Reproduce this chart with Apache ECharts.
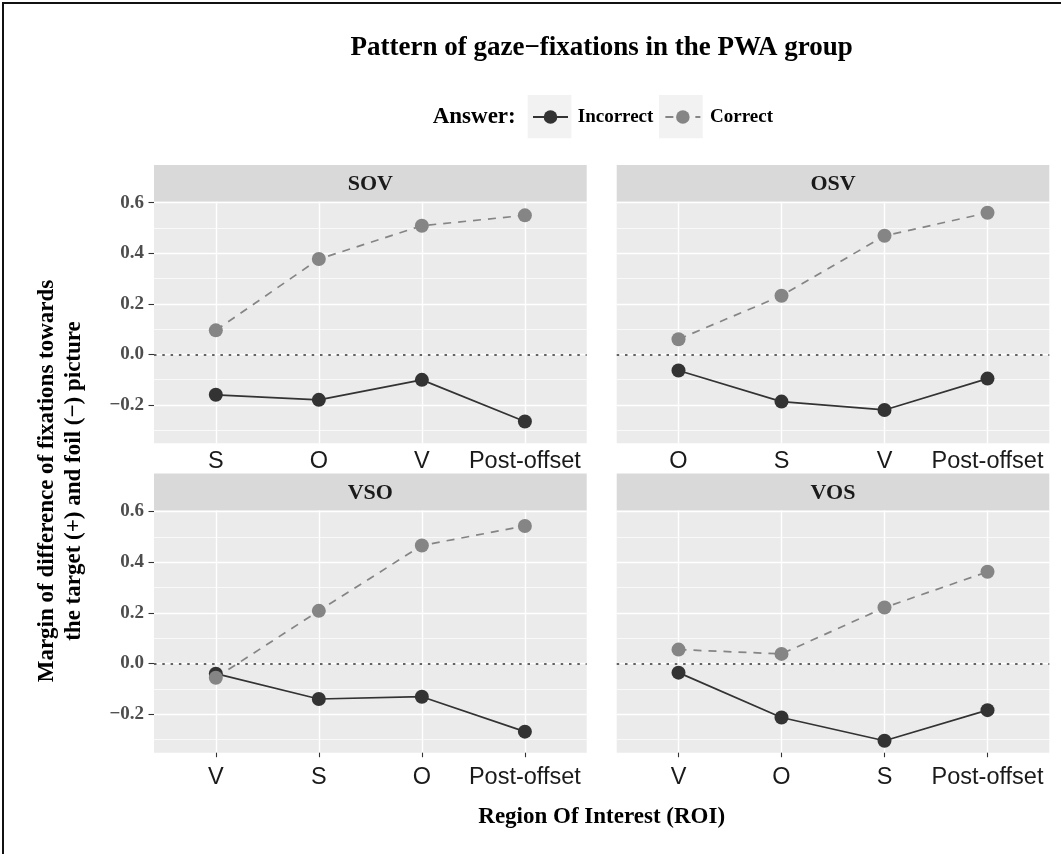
<!DOCTYPE html>
<html>
<head>
<meta charset="utf-8">
<title>Pattern of gaze-fixations in the PWA group</title>
<script src="https://cdn.jsdelivr.net/npm/echarts@6.0.0/dist/echarts.min.js"></script>
<style>
  html, body { margin: 0; padding: 0; background: #fff; }
  #chart { width: 1061px; height: 854px; }
</style>
</head>
<body>
<div id="chart"></div>
<script>
// facets, in drawing order: top-left, top-right, bottom-left, bottom-right
var panelNames = ['SOV', 'OSV', 'VSO', 'VOS'];

// order of the regions of interest on each facet's x axis
var sovRoi = ['S', 'O', 'V', 'Post-offset'];
var osvRoi = ['O', 'S', 'V', 'Post-offset'];
var vsoRoi = ['V', 'S', 'O', 'Post-offset'];
var vosRoi = ['V', 'O', 'S', 'Post-offset'];

// margin of difference, incorrect answers
var sovIncorrect = [-0.160, -0.180, -0.101, -0.266];
var osvIncorrect = [-0.064, -0.187, -0.220, -0.096];
var vsoIncorrect = [-0.040, -0.140, -0.131, -0.269];
var vosIncorrect = [-0.036, -0.213, -0.305, -0.184];

// margin of difference, correct answers
var sovCorrect = [0.095, 0.377, 0.509, 0.550];
var osvCorrect = [0.060, 0.232, 0.469, 0.560];
var vsoCorrect = [-0.056, 0.208, 0.466, 0.543];
var vosCorrect = [0.055, 0.038, 0.221, 0.362];

// axis ticks
var yTicks = [-0.2, 0, 0.2, 0.4, 0.6];
var yMinorTicks = [-0.3, -0.1, 0.1, 0.3, 0.5];
var xTicks = [0, 1, 2, 3];

var rois = [sovRoi, osvRoi, vsoRoi, vosRoi];
var incorrect = [sovIncorrect, osvIncorrect, vsoIncorrect, vosIncorrect];
var correct = [sovCorrect, osvCorrect, vsoCorrect, vosCorrect];

var chart = echarts.init(document.getElementById('chart'), null, { renderer: 'canvas' });

var serif = '"Liberation Serif", "DejaVu Serif", serif';
var sans = '"Liberation Sans", Arial, sans-serif';
var darkCol = '#333333';
var lightCol = '#858585';

// panel boxes (pixels)
var panels = [
  { left: 154, top: 201.7, width: 432.7, height: 241.6, stripTop: 165 },
  { left: 616.7, top: 201.7, width: 432.6, height: 241.6, stripTop: 165 },
  { left: 154, top: 510.5, width: 432.7, height: 242.2, stripTop: 473.5 },
  { left: 616.7, top: 510.5, width: 432.6, height: 242.2, stripTop: 473.5 }
];
var yMin = -0.352, yMax = 0.604;

function fmtY(v) {
  if (Math.abs(v) < 1e-9) return '0.0';
  return (v < 0 ? '\u2212' : '') + Math.abs(v).toFixed(1);
}

function toPairs(vals) {
  return vals.map(function (v, i) { return [i, v]; });
}

var grids = [], xAxes = [], yAxes = [], series = [], graphics = [];

panels.forEach(function (p, g) {
  var isLeft = g % 2 === 0;
  var isBottom = g >= 2;
  var roi = rois[g];

  grids.push({
    left: p.left, top: p.top, width: p.width, height: p.height,
    show: true, backgroundColor: '#ebebeb', borderWidth: 0,
    containLabel: false, outerBoundsMode: 'none'
  });

  xAxes.push({
    type: 'value', gridIndex: g, min: -0.6, max: 3.6, position: 'bottom',
    axisLine: { show: false, onZero: false },
    axisTick: { show: isBottom, customValues: xTicks, length: 4.5, lineStyle: { color: darkCol, width: 1.1 } },
    axisLabel: {
      customValues: xTicks,
      formatter: function (v) { return roi[Math.round(v)]; },
      margin: isBottom ? 13 : 6,
      fontFamily: sans, fontSize: 23.5, color: '#1a1a1a'
    },
    splitLine: { show: true, lineStyle: { color: '#ffffff', width: 1.4 } }
  });

  // major grid + labels
  yAxes.push({
    type: 'value', gridIndex: g, min: yMin, max: yMax, position: 'left',
    axisLine: { show: false, onZero: false },
    axisTick: { show: isLeft, customValues: yTicks, length: 5.5, lineStyle: { color: darkCol, width: 1.1 } },
    axisLabel: {
      show: isLeft, customValues: yTicks, formatter: fmtY, margin: 10,
      fontFamily: serif, fontWeight: 'bold', fontSize: 19, color: '#4d4d4d'
    },
    splitLine: { show: true, lineStyle: { color: '#ffffff', width: 1.4 } }
  });
  // minor grid
  yAxes.push({
    type: 'value', gridIndex: g, min: yMin, max: yMax, position: 'left',
    axisLine: { show: false, onZero: false },
    axisTick: { show: false, customValues: yMinorTicks },
    axisLabel: { show: false, customValues: yMinorTicks },
    splitLine: { show: true, lineStyle: { color: '#ffffff', width: 0.7 } }
  });

  series.push({
    name: 'Incorrect', type: 'line', xAxisIndex: g, yAxisIndex: 2 * g,
    data: toPairs(incorrect[g]),
    symbol: 'circle', symbolSize: 14,
    itemStyle: { color: darkCol },
    lineStyle: { color: darkCol, width: 1.7, type: 'solid' },
    markLine: {
      silent: true, symbol: 'none', label: { show: false }, animation: false,
      lineStyle: { color: darkCol, width: 1.7, type: [2.5, 5.8] },
      data: [{ yAxis: 0 }]
    }
  });
  series.push({
    name: 'Correct', type: 'line', xAxisIndex: g, yAxisIndex: 2 * g,
    data: toPairs(correct[g]),
    symbol: 'circle', symbolSize: 14,
    itemStyle: { color: lightCol },
    lineStyle: { color: lightCol, width: 1.7, type: [8, 7] }
  });

  // facet strip
  graphics.push({
    type: 'rect', shape: { x: p.left, y: p.stripTop, width: p.width, height: p.top - p.stripTop },
    style: { fill: '#d9d9d9' }, silent: true
  });
  graphics.push({
    type: 'text', x: p.left + p.width / 2, y: (p.stripTop + p.top) / 2 + 1,
    style: { text: panelNames[g], font: 'bold 22px ' + serif, fill: '#1a1a1a', align: 'center', verticalAlign: 'middle' },
    silent: true
  });
});

// legend key backgrounds, legend title, plot title, axis titles, frame
graphics.push(
  { type: 'rect', shape: { x: 527.7, y: 95, width: 43.7, height: 43.3 }, style: { fill: '#f2f2f2' }, silent: true },
  { type: 'rect', shape: { x: 659, y: 95, width: 43.7, height: 43.3 }, style: { fill: '#f2f2f2' }, silent: true },
  {
    type: 'text', x: 432.7, y: 117,
    style: { text: 'Answer:', font: 'bold 23px ' + serif, fill: '#000', align: 'left', verticalAlign: 'middle' },
    silent: true
  },
  {
    type: 'text', x: 601.7, y: 48,
    style: { text: 'Pattern of gaze\u2212fixations in the PWA group', font: 'bold 27px ' + serif, fill: '#000', align: 'center', verticalAlign: 'middle' },
    silent: true
  },
  {
    type: 'text', x: 601.7, y: 817,
    style: { text: 'Region Of Interest (ROI)', font: 'bold 23px ' + serif, fill: '#000', align: 'center', verticalAlign: 'middle' },
    silent: true
  },
  {
    type: 'text', x: 60.5, y: 481, rotation: Math.PI / 2,
    style: {
      text: 'Margin of difference of fixations towards\nthe target (+) and foil (\u2212) picture',
      font: 'bold 23px ' + serif, lineHeight: 27, fill: '#000', align: 'center', verticalAlign: 'middle'
    },
    silent: true
  },
  {
    type: 'rect', shape: { x: 3, y: 3, width: 1200, height: 1000 },
    style: { fill: 'none', stroke: '#111', lineWidth: 2 }, silent: true, z: 100
  }
);

chart.setOption({
  animation: false,
  backgroundColor: '#ffffff',
  legend: {
    data: ['Incorrect', 'Correct'],
    left: 532, top: 107.5, padding: 0,
    itemWidth: 35, itemHeight: 17, itemGap: 11,
    selectedMode: false,
    formatter: ' {name}',
    textStyle: { fontFamily: serif, fontWeight: 'bold', fontSize: 19, lineHeight: 19, color: '#000' }
  },
  grid: grids,
  xAxis: xAxes,
  yAxis: yAxes,
  series: series,
  graphic: { elements: graphics }
});
</script>
</body>
</html>
